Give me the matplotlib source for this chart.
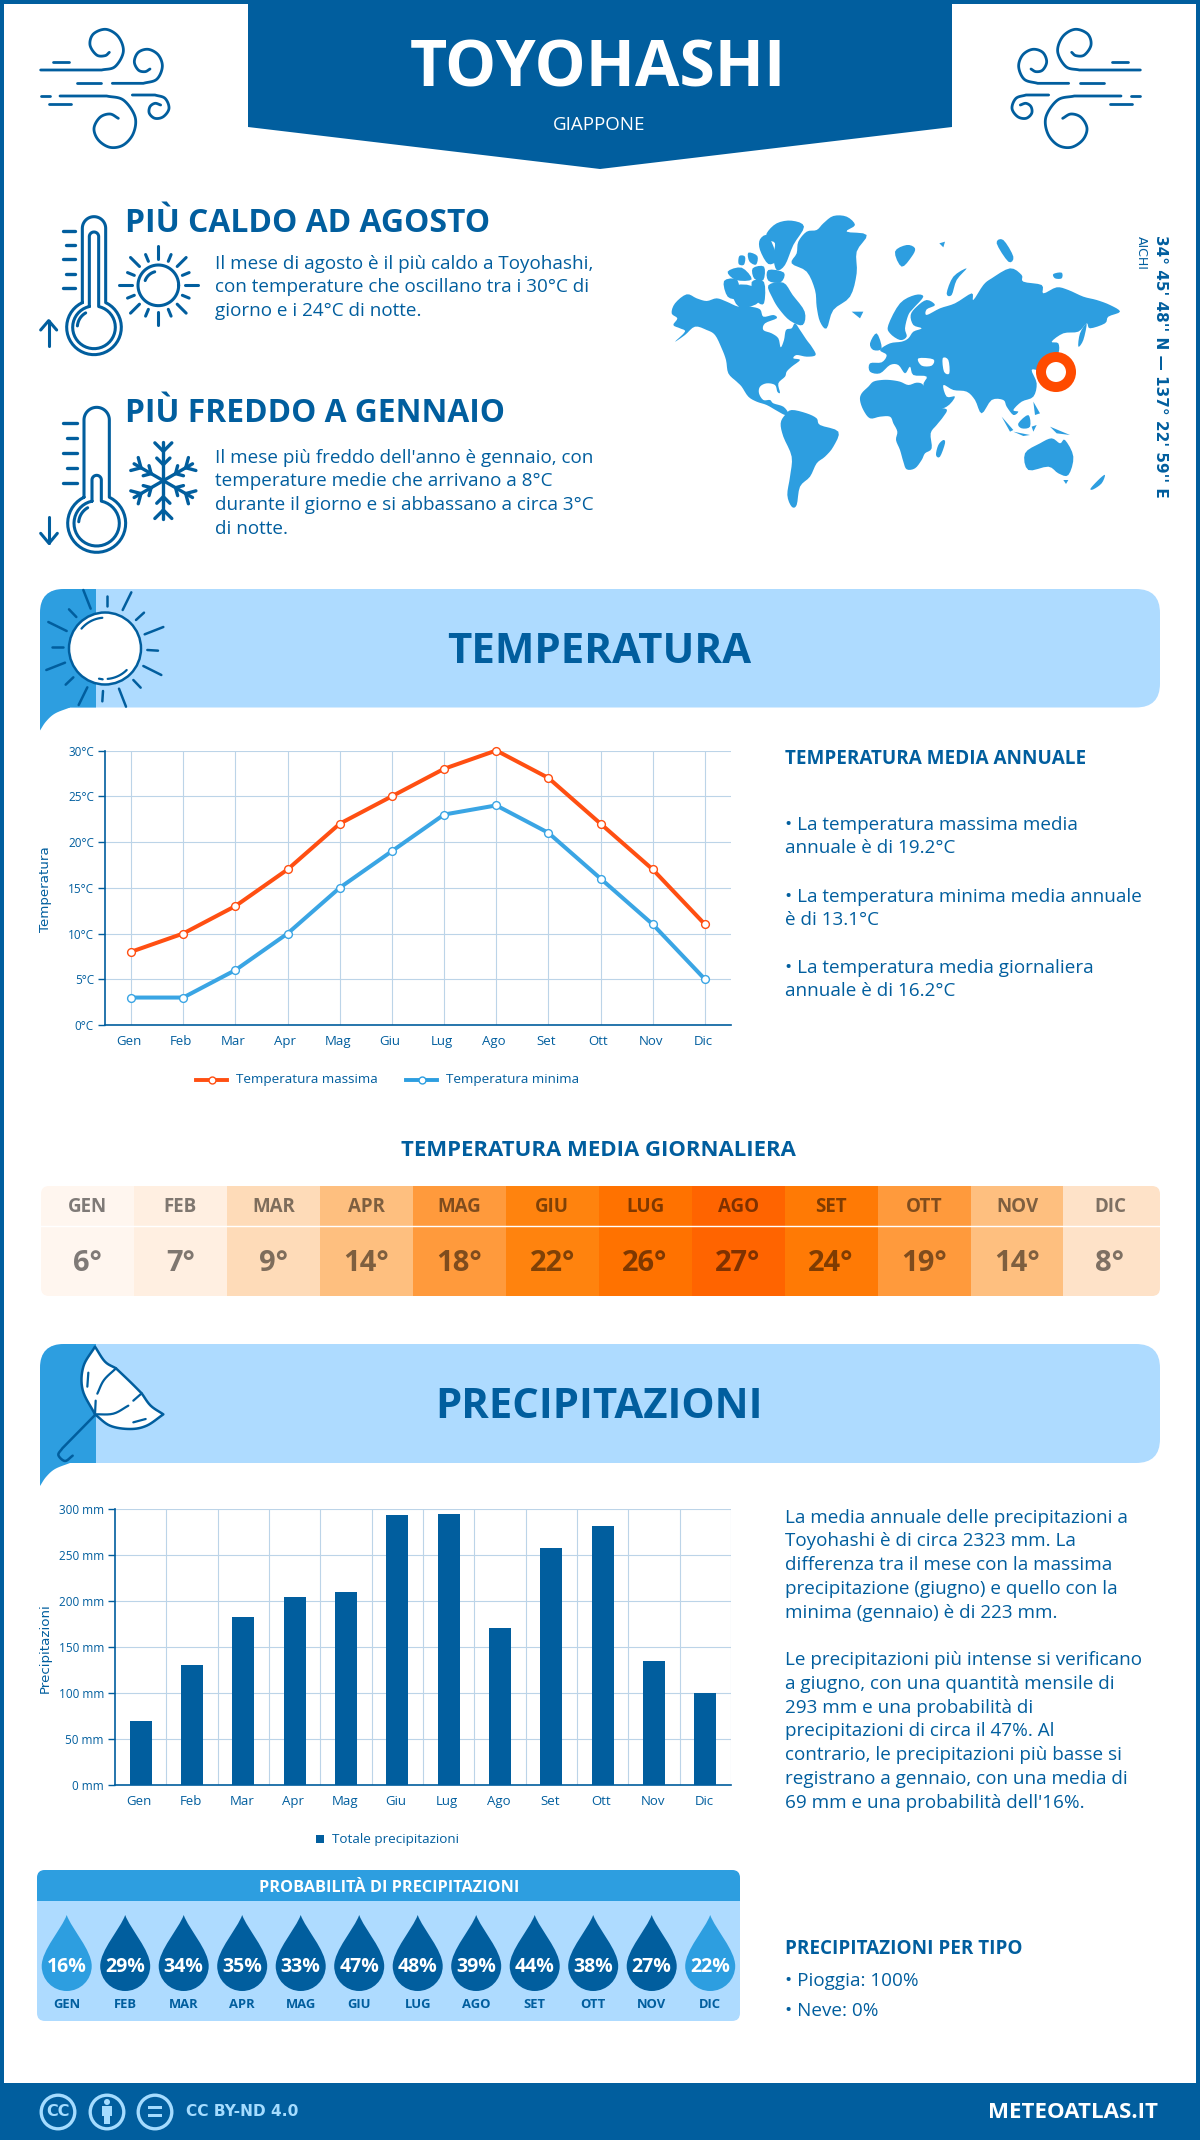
import numpy as np
import matplotlib
matplotlib.use("Agg")
import matplotlib.pyplot as plt
from matplotlib.patches import Polygon, Circle, FancyBboxPatch, Rectangle, PathPatch
from matplotlib.path import Path
from matplotlib.transforms import ScaledTranslation

# ---------- data ----------
months = ["Gen","Feb","Mar","Apr","Mag","Giu","Lug","Ago","Set","Ott","Nov","Dic"]
months_up = [m.upper() for m in months]
temp_max = [8,10,13,17,22,25,28,30,27,22,17,11]
temp_min = [3,3,6,10,15,19,23,24,21,16,11,5]
temp_avg = [6,7,9,14,18,22,26,27,24,19,14,8]
temp_colors = ["#fff6ef","#ffefe1","#fedbb8","#febf7f","#ff9a3c","#ff830e",
               "#ff7200","#ff6400","#ff7a05","#ff9a3c","#febf7f","#fee2c8"]
precip = [69,130,182,204,210,293,295,170,257,281,134,100]
rain_prob = [16,29,34,35,33,47,48,39,44,38,27,22]
temp_ticks = [0,5,10,15,20,25,30]
precip_ticks = [0,50,100,150,200,250,300]

hot_lines = ["Il mese di agosto è il più caldo a Toyohashi,",
             "con temperature che oscillano tra i 30°C di",
             "giorno e i 24°C di notte."]
cold_lines = ["Il mese più freddo dell'anno è gennaio, con",
              "temperature medie che arrivano a 8°C",
              "durante il giorno e si abbassano a circa 3°C",
              "di notte."]
temp_notes = [("• La temperatura massima media",825.5),("annuale è di 19.2°C",848),
              ("• La temperatura minima media annuale",896.5),("è di 13.1°C",920),
              ("• La temperatura media giornaliera",968),("annuale è di 16.2°C",991)]
rain_lines = [("La media annuale delle precipitazioni a",1518),
              ("Toyohashi è di circa 2323 mm. La",1541),
              ("differenza tra il mese con la massima",1565),
              ("precipitazione (giugno) e quello con la",1589),
              ("minima (gennaio) è di 223 mm.",1613),
              ("Le precipitazioni più intense si verificano",1660),
              ("a giugno, con una quantità mensile di",1684),
              ("293 mm e una probabilità di",1708),
              ("precipitazioni di circa il 47%. Al",1731),
              ("contrario, le precipitazioni più basse si",1755),
              ("registrano a gennaio, con una media di",1779),
              ("69 mm e una probabilità dell'16%.",1803)]

BLUE = "#015e9e"; MID = "#2d9ee0"; PALE = "#aedbff"; GRID = "#bcd4e8"; ORANGE = "#ff4f12"
plt.rcParams["font.family"] = ["Open Sans", "DejaVu Sans"]

W, H = 1200, 2140
fig = plt.figure(figsize=(W/100, H/100), dpi=100, facecolor="white")
bg = fig.add_axes([0, 0, 1, 1]); bg.set_xlim(0, W); bg.set_ylim(H, 0); bg.axis("off")
renderer = fig.canvas.get_renderer()

def T(x, y, s, size=12, weight="normal", color=BLUE, ha="left", va="center", fit=None, **kw):
    t = bg.text(x, y, s, fontsize=size, fontweight=weight, color=color, ha=ha, va=va, **kw)
    if fit:
        t.set_fontsize(size*fit/t.get_window_extent(renderer).width)
    return t

def poly(pts, fc, z=2, ec="none", lw=0):
    bg.add_patch(Polygon(pts, closed=True, fc=fc, ec=ec, lw=lw, zorder=z))

def smooth(pts, n=10):
    pts = np.array(pts, float)
    p = np.vstack([2*pts[0]-pts[1], pts, 2*pts[-1]-pts[-2]])
    out = []
    for i in range(1, len(p)-2):
        for u in np.linspace(0, 1, n, endpoint=False):
            a, b, c, d = p[i-1], p[i], p[i+1], p[i+2]
            out.append(0.5*((2*b)+(c-a)*u+(2*a-5*b+4*c-d)*u*u+(3*b-a-3*c+d)*u**3))
    out.append(pts[-1])
    return np.array(out)

def smooth_closed(pts, n=4):
    pts = np.array(pts, float)
    if len(pts) < 4:
        return pts
    m = len(pts); out = []
    for i in range(m):
        a, b, c, d = pts[(i-1) % m], pts[i], pts[(i+1) % m], pts[(i+2) % m]
        for u in np.linspace(0, 1, n, endpoint=False):
            out.append(0.5*((2*b)+(c-a)*u+(2*a-5*b+4*c-d)*u*u+(3*b-a-3*c+d)*u**3))
    return np.array(out)

def arc(cx, cy, r, a1, a2, n=40):
    a = np.radians(np.linspace(a1, a2, n))
    return np.c_[cx+r*np.cos(a), cy-r*np.sin(a)]

def L(pts, lw=2.0, color=BLUE, z=5):
    pts = np.asarray(pts, float)
    bg.plot(pts[:,0], pts[:,1], color=color, lw=lw, solid_capstyle="round", solid_joinstyle="round", zorder=z)

# ---------- frame ----------
bg.add_patch(Rectangle((0,0),4,H,fc=BLUE,ec="none",zorder=1))
bg.add_patch(Rectangle((W-4,0),4,H,fc=BLUE,ec="none",zorder=1))
bg.add_patch(Rectangle((0,0),W,3.5,fc=BLUE,ec="none",zorder=1))
bg.add_patch(Rectangle((0,2083),W,57,fc=BLUE,ec="none",zorder=1))
poly([(248,0),(952,0),(952,127),(600,169),(248,127)], BLUE)
T(598,70,"TOYOHASHI",52,"bold","white",ha="center",fit=377)
T(599,125,"GIAPPONE",13,"normal","white",ha="center",fit=92)

# ---------- wind icons ----------
wind = [
 [(62,180),(150,180),(245,180),(285,170),(310,125),(295,80),(258,58),(220,72),(210,105),(230,135),(255,137),(268,127)],
 [(100,155),(148,155)],[(170,220),(244,220)],
 [(277,220),(320,220),(370,220),(410,208),(427,170),(415,135),(385,118),(355,127),(343,155),(355,180),(375,185),(390,177)],
 [(62,258),(90,258)],
 [(120,258),(190,258),(260,258),(310,270),(345,320),(340,370),(310,405),(270,412),(235,390),(222,355),(240,322),(270,312),(295,325)],
 [(87,283),(153,283)],
 [(337,255),(370,255),(405,255),(435,265),(447,295),(430,320),(405,325),(388,310),(390,290),(405,280),(422,285)],
]
for w in wind:
    q = np.array(w, float); q = np.c_[20+q[:,0]/3, 10+q[:,1]/3]
    full = q if len(q) == 2 else np.vstack([q[:2], smooth(q[2:])])
    L(full)
    L(np.c_[1181-full[:,0], full[:,1]])

# ---------- thermometers ----------
def zz(pts, ox=30, oy=200):
    q = np.array(pts, float)
    return np.c_[ox+q[:,0]/3, oy+q[:,1]/3]

def thermo(cx, top_y, tr, by, br, tick_ys, tx0, tx1, inner):
    a = np.degrees(np.arcsin(tr/br))
    outer = np.vstack([arc(cx, by, br, 90+a, 360+90-a), arc(cx, top_y, tr, 0, 180)])
    outer = np.vstack([outer, outer[:1]])
    L(zz(outer), 2.2)
    itop, itr, ibr = inner
    a2 = np.degrees(np.arcsin(itr/ibr))
    inn = np.vstack([arc(cx, by, ibr, 90+a2, 360+90-a2), arc(cx, itop, itr, 0, 180)])
    inn = np.vstack([inn, inn[:1]])
    L(zz(inn), 2.2)
    L(zz(arc(cx, by, ibr-14, 120, 175, 12)), 2.2)
    for i, y in enumerate(tick_ys):
        L(zz([(tx0 + (10 if i % 2 else 0), y), (tx1, y)]), 2.4)

thermo(192, 85, 35, 382, 82, [93,136,178,221,263], 98, 135, (110, 14, 64))
L(zz([(56,438),(56,362)]), 2.2); L(zz([(32,390),(56,362),(80,390)]), 2.2)
thermo(200, 660, 38, 970, 87, [670,714,759,803,848], 100, 140, (840, 14, 68))
L(zz([(57,950),(57,1030)]), 2.2); L(zz([(32,1000),(57,1030),(82,1000)]), 2.2)

# sun icon
L(zz(arc(385,256,61,0,360,60)), 2.2)
L(zz(arc(385,256,42,105,160,12)), 2.2)
for ang in range(0, 360, 45):
    c, s = np.cos(np.radians(ang)), np.sin(np.radians(ang))
    L(zz([(385+80*c,256-80*s),(385+118*c,256-118*s)]), 2.2)
for ang in np.arange(22.5, 360, 45):
    c, s = np.cos(np.radians(ang)), np.sin(np.radians(ang))
    L(zz([(385+78*c,256-78*s),(385+100*c,256-100*s)]), 2.2)

# snowflake icon
for ang in (90, 30, -30, 210, 150, 270):
    u = np.array([np.cos(np.radians(ang)), -np.sin(np.radians(ang))])
    c0 = np.array([400., 842.])
    sc = 1.0 if ang in (90, 270) else 0.88
    L(zz([c0, c0+115*sc*u]), 2.4)
    for d in (48, 88):
        p = c0 + d*sc*u
        for sgn in (1, -1):
            th = np.radians(ang + sgn*45)
            v = np.array([np.cos(th), -np.sin(th)])
            L(zz([p, p + (36 if d == 88 else 28)*sc*v]), 2.4)

# headings and text
T(125,223,"PIÙ CALDO AD AGOSTO",23,"bold",fit=366)
for s, y in zip(hot_lines, [264,287.5,311]):
    T(215,y,s,13.6)
T(125,413,"PIÙ FREDDO A GENNAIO",23,"bold",fit=381)
for s, y in zip(cold_lines, [458,481.5,505.5,529.5]):
    T(215,y,s,13.6)

# ---------- world map (zoom coordinates, decoration) ----------
land = [
 [(35,340),(45,310),(80,283),(110,295),(140,303),(170,295),(200,305),(235,320),(270,320),(300,328),(310,350),(340,345),(350,355),(315,370),(310,390),(335,400),(355,415),(362,442),(372,420),(378,390),(395,385),(405,370),(420,390),(440,420),(455,440),(467,465),(440,470),(410,465),(400,475),(420,480),(395,500),(380,515),(375,530),(355,550),(360,578),(352,575),(345,555),(320,550),(300,560),(297,580),(310,600),(330,600),(340,610),(370,620),(385,640),(375,645),(350,632),(320,615),(290,605),(265,590),(245,560),(230,545),(205,520),(198,480),(185,445),(165,405),(140,390),(105,380),(75,405),(45,425),(75,395),(60,385),(40,375),(52,355)],
 [(490,70),(520,48),(560,50),(585,75),(560,95),(620,105),(590,155),(590,220),(570,290),(520,330),(500,385),(480,365),(470,320),(465,270),(440,215),(395,190),(410,160),(415,125),(440,95),(470,90)],
 [(320,100),(350,70),(395,62),(432,80),(400,135),(375,195),(350,210),(340,170),(345,130),(325,120)],
 [(325,256),(370,248),(398,285),(434,335),(428,375),(390,362),(358,328),(338,295)],
 [(192,243),(232,240),(235,292),(203,290)],[(215,262),(275,258),(298,305),(238,322)],
 [(203,215),(245,203),(275,238),(228,240)],[(278,205),(312,200),(310,240),(283,236)],
 [(300,118),(325,108),(350,175),(325,192),(300,150)],[(325,210),(372,218),(362,247),(325,242)],
 [(275,246),(312,246),(312,310),(288,300)],[(238,168),(255,170),(252,194),(236,192)],[(265,158),(292,168),(288,194),(268,184)],
 [(362,670),(375,645),(395,630),(440,640),(470,655),(480,675),(535,695),(520,740),(495,770),(470,790),(450,830),(420,860),(410,915),(395,920),(382,885),(390,830),(395,770),(370,710)],
 [(600,600),(605,580),(625,560),(640,545),(665,540),(690,540),(720,545),(745,555),(770,548),(790,555),(805,590),(825,620),(860,628),(850,650),(830,675),(812,700),(815,745),(795,760),(785,780),(765,805),(740,808),(730,785),(720,750),(708,720),(712,695),(700,670),(690,650),(660,650),(630,655),(610,630)],
 [(850,720),(855,730),(840,770),(828,765),(835,735)],
 [(630,490),(665,487),(680,465),(660,450),(690,430),(725,425),(745,415),(760,395),(785,385),(760,375),(752,345),(770,320),(800,300),(825,315),(800,328),(800,345),(840,325),(885,310),(935,280),(940,300),(970,255),(995,235),(1050,205),(1085,225),(1090,245),(1145,255),(1150,280),(1190,262),(1225,270),(1270,290),(1310,300),(1350,315),(1380,335),(1345,350),(1335,370),(1290,385),(1280,370),(1255,395),(1210,400),(1175,425),(1195,430),(1195,460),(1170,490),(1140,510),(1115,510),(1130,550),(1120,590),(1085,605),(1060,630),(1075,635),(1060,645),(1040,620),(1030,600),(995,600),(965,640),(945,600),(920,575),(880,570),(850,555),(860,590),(885,590),(860,620),(820,625),(790,560),(800,530),(760,525),(750,500),(735,520),(715,495),(690,495),(660,520),(630,515)],
 [(685,375),(720,310),(765,285),(790,290),(760,325),(745,345),(735,385),(740,410),(720,420),(690,400)],
 [(630,430),(650,400),(665,445),(640,450)],
 [(705,155),(740,135),(765,145),(755,170),(725,200)],
 [(860,280),(880,230),(920,205),(890,240),(875,285)],
 [(1010,130),(1030,120),(1060,170),(1045,185)],
 [(1180,222),(1205,218),(1205,235),(1185,235)],[(838,130),(855,125),(850,142)],
 [(1255,440),(1260,400),(1280,370),(1270,420)],[(575,335),(610,335),(600,355)],
 [(1120,605),(1140,640),(1125,645)],[(1075,670),(1105,645),(1110,680),(1085,685)],
 [(1025,650),(1060,690),(1050,695)],[(1060,695),(1110,705),(1090,708)],
 [(1115,680),(1130,675),(1120,695)],[(1170,680),(1230,705),(1190,700)],
 [(1095,760),(1140,730),(1175,715),(1200,730),(1215,720),(1240,770),(1225,825),(1195,820),(1165,800),(1105,810)],
 [(1210,840),(1225,840),(1218,852)],[(1292,865),(1320,835),(1335,825),(1325,850),(1300,868)],
]
for p in land:
    poly(zz(smooth_closed(p), 660, 200), MID, 2)
holes = [[(775,475),(820,478),(815,497),(785,497)],[(848,475),(865,480),(868,520),(852,515)]]
for p in holes:
    poly(zz(smooth_closed(p), 660, 200), "white", 3)
bg.add_patch(Circle((1056,372),15,fc="none",ec="#ff4b00",lw=7.2,zorder=4))
T(1160,366,"34° 45' 48'' N — 137° 22' 59'' E",11,"bold",ha="center",rotation=-90,family="DejaVu Sans")
T(1141,252.5,"AICHI",9,"normal",ha="center",rotation=-90,family="DejaVu Sans")

# ---------- section banners ----------
def banner(y0, y1, title, fitw):
    r = 24
    bg.add_patch(FancyBboxPatch((40+r,y0+r),1120-2*r,y1-y0-2*r,boxstyle=f"round,pad={r},rounding_size={r}",
                                fc=PALE,ec="none",zorder=1.5))
    cl = FancyBboxPatch((40+r,y0+r),1120-2*r,y1-y0-2*r,boxstyle=f"round,pad={r},rounding_size={r}",
                        fc=MID,ec="none",zorder=1.6)
    bg.add_patch(cl)
    cl.set_clip_path(Rectangle((40,y0),56,y1-y0+2,transform=bg.transData))
    tail = smooth([(70,y1),(55,y1+6),(46,y1+14),(40,y1+23)],6)
    poly([(40,y1-30),(70,y1-30)]+[tuple(v) for v in tail], MID, 1.6)
    T(599,(y0+y1)/2+4,title,30,"bold",ha="center",fit=fitw)

banner(589,707.5,"TEMPERATURA",304)
banner(1344,1463,"PRECIPITAZIONI",327)

# banner sun
def z7(p): return zz(p,30,580)
bg.add_patch(Circle((105,648.5),36,fc="white",ec=BLUE,lw=1.8,zorder=5))
rays = [[(160,30),(182,86)],[(230,47),(230,78)],[(304,37),(278,90)],[(342,98),(318,120)],[(400,141),(344,163)],
        [(352,210),(384,212)],[(340,258),(394,285)],[(310,300),(332,323)],[(267,326),(288,380)],[(219,333),(217,364)],
        [(172,322),(146,375)],[(130,292),(107,314)],[(105,248),(49,270)],[(67,200),(98,200)],[(110,153),(55,126)],[(139,111),(117,88)]]
for r in rays:
    L(z7(r),1.8)
L(z7(arc(225,205,92,95,140,12)),1.6); L(z7(arc(225,205,92,-85,-45,12)),1.6); L(z7([(207,296),(218,298)]),1.6)

# banner umbrella
def z8(p): return zz(p,30,1335)
umb = np.vstack([smooth([(195,35),(160,95),(158,165),(195,238)],8),
                 smooth([(195,238),(240,272),(300,282),(350,272),(400,238)],8),
                 smooth([(400,238),(362,212),(335,175)],6),
                 smooth([(335,175),(300,140),(258,100)],6),
                 smooth([(258,100),(225,80),(195,35)],6)])
bg.add_patch(Polygon(z8(umb),closed=True,fc="white",ec=BLUE,lw=1.8,joinstyle="round",zorder=5))
for seg in ([(258,100),(222,135),(202,176)],[(197,197),(195,238)],[(195,238),(250,236),(295,212)],
            [(310,197),(335,175)],[(310,262),(347,252)],[(175,113),(172,155)]):
    L(z8(smooth(seg,6)),1.6,z=6)
L(z8(np.vstack([[(195,240),(97,340)],smooth([(97,340),(85,360),(105,378),(128,362)],6)])),1.8,z=6)

# ---------- charts ----------
def style_axes(a, shift):
    a.set_facecolor("none")
    for s in ("top","right"):
        a.spines[s].set_visible(False)
    for s in ("left","bottom"):
        a.spines[s].set_color(BLUE); a.spines[s].set_linewidth(1.2)
    a.tick_params(axis="y",length=5,width=1,color=BLUE,labelcolor=BLUE,labelsize=8.5,pad=3)
    a.tick_params(axis="x",length=0,labelcolor=BLUE,labelsize=9.5,pad=7.5)
    a.grid(True,color=GRID,lw=0.8); a.set_axisbelow(True)
    for lab in a.get_xticklabels():
        lab.set_transform(lab.get_transform()+ScaledTranslation(shift/72,0,fig.dpi_scale_trans))

ax = fig.add_axes([105/W,1-1025/H,626/W,274.5/H])
x = np.arange(12)
ax.set_xlim(-0.5,11.5); ax.set_ylim(0,30); ax.set_yticks(temp_ticks)
ax.set_yticklabels([f"{v}°C" for v in temp_ticks])
ax.set_xticks(x); ax.set_xticklabels(months)
style_axes(ax,-1.5)
MINC = "#3aa5e4"
ax.plot(x,temp_max,color=ORANGE,lw=2.9,marker="o",ms=5.6,mfc="white",mec=ORANGE,mew=1,clip_on=False,zorder=4)
ax.plot(x,temp_min,color=MINC,lw=2.9,marker="o",ms=5.6,mfc="white",mec=MINC,mew=1,clip_on=False,zorder=4)
T(45,889,"Temperatura",9.6,rotation=90,ha="center",family="DejaVu Sans")
bg.plot([196,227],[1080,1080],color=ORANGE,lw=2.8,zorder=5)
bg.plot([211.5],[1080],marker="o",ms=5,mfc="white",mec=ORANGE,mew=1,zorder=6)
T(236,1080,"Temperatura massima",9.7)
bg.plot([406,437],[1080,1080],color=MID,lw=2.8,zorder=5)
bg.plot([421.5],[1080],marker="o",ms=5,mfc="white",mec=MID,mew=1,zorder=6)
T(446,1080,"Temperatura minima",9.7)

T(785,759,"TEMPERATURA MEDIA ANNUALE",14,"bold",fit=302)
for s, y in temp_notes:
    T(785,y,s,13.6)

# ---------- daily mean strip ----------
T(598,1150,"TEMPERATURA MEDIA GIORNALIERA",16,"bold",ha="center",fit=396)
cw = 92.95
clip = FancyBboxPatch((49,1194),1103,94,boxstyle="round,pad=8,rounding_size=8",fc="none",ec="none",transform=bg.transData)
bg.add_patch(clip)
for i,(m,v,c) in enumerate(zip(months_up,temp_avg,temp_colors)):
    x0 = 41+i*cw
    wid = (1160-x0) if i == 11 else cw+0.5
    rect = Rectangle((x0,1186),wid,110,fc=c,ec="none",zorder=2)
    bg.add_patch(rect); rect.set_clip_path(clip)
    T(x0+cw/2,1207,m,13.5,"bold",color="#000000",ha="center",alpha=0.5)
    T(x0+cw/2,1263.5,f"{v}°",21,"bold",color="#000000",ha="center",alpha=0.5)
bg.plot([41,1160],[1225.5,1225.5],color="white",lw=1,zorder=3)

# ---------- precipitation chart ----------
ax2 = fig.add_axes([115/W,1-1784.5/H,616/W,275.5/H])
ax2.bar(x,precip,width=0.43,color=BLUE,zorder=3)
ax2.set_xlim(-0.5,11.5); ax2.set_ylim(0,300); ax2.set_yticks(precip_ticks)
ax2.set_yticklabels([f"{v} mm" for v in precip_ticks])
ax2.set_xticks(x); ax2.set_xticklabels(months)
style_axes(ax2,-1)
ax2.grid(False,axis="x")
for e in np.arange(0.5,11.6,1):
    ax2.axvline(e,color=GRID,lw=0.8,zorder=0)
T(45,1648,"Precipitazioni",9.6,rotation=90,ha="center",family="DejaVu Sans")
bg.add_patch(Rectangle((316,1835),8,8,fc=BLUE,ec="none",zorder=5))
T(332,1839,"Totale precipitazioni",9.7)
for s, y in rain_lines:
    T(785,y,s,13.6)
T(785,1949,"PRECIPITAZIONI PER TIPO",14,"bold",fit=237)
T(785,1981.5,"• Pioggia: 100%",13.6)
T(785,2010.5,"• Neve: 0%",13.6)

# ---------- rain probability ----------
bg.add_patch(FancyBboxPatch((45,1878),687,135,boxstyle="round,pad=8,rounding_size=8",fc=PALE,ec="none",zorder=1.5))
hd = FancyBboxPatch((45,1878),687,135,boxstyle="round,pad=8,rounding_size=8",fc=MID,ec="none",zorder=1.6)
bg.add_patch(hd); hd.set_clip_path(Rectangle((37,1870),703,31,transform=bg.transData))
T(389,1888,"PROBABILITÀ DI PRECIPITAZIONI",12,"bold","white",ha="center",fit=258)

def drop(cx, fc):
    tip, cy, r = 1915, 1966, 25
    k = 0.5523*r
    verts = [(cx,tip),(cx+5,tip+14),(cx+r,cy-16),(cx+r,cy),
             (cx+r,cy+k),(cx+k,cy+r),(cx,cy+r),
             (cx-k,cy+r),(cx-r,cy+k),(cx-r,cy),
             (cx-r,cy-16),(cx-5,tip+14),(cx,tip),(cx,tip)]
    codes = [Path.MOVETO]+[Path.CURVE4]*12+[Path.CLOSEPOLY]
    bg.add_patch(PathPatch(Path(verts,codes),fc=fc,ec="none",zorder=3))

for i,(m,v) in enumerate(zip(months_up,rain_prob)):
    cx = 66.7+i*58.5
    drop(cx, MID if v < 25 else BLUE)
    T(cx,1966.5,f"{v}%",14,"bold","white",ha="center",zorder=6)
    T(cx,2005,m,9.4,"bold",BLUE,ha="center")

# ---------- footer ----------
LB = "#a5dcff"
for cx in (58,107,155):
    bg.add_patch(Circle((cx,2112),16.8,fc="none",ec=LB,lw=2.4,zorder=3))
T(58,2112,"CC",11.5,"bold",LB,ha="center",family="DejaVu Sans",zorder=4)
bg.add_patch(Circle((107,2102),3,fc=LB,ec="none",zorder=4))
bg.add_patch(Rectangle((102,2106),10,10,fc=LB,ec="none",zorder=4))
bg.add_patch(Rectangle((104,2116),6,8,fc=LB,ec="none",zorder=4))
bg.add_patch(Rectangle((148,2106),14,3,fc=LB,ec="none",zorder=4))
bg.add_patch(Rectangle((148,2114),14,3,fc=LB,ec="none",zorder=4))
T(186,2112,"CC BY-ND 4.0",10.5,"bold",LB,family="DejaVu Sans",fit=113)
T(1158,2113,"METEOATLAS.IT",16,"bold","white",ha="right",fit=170)

fig.savefig("out.png",dpi=100,facecolor="white")
